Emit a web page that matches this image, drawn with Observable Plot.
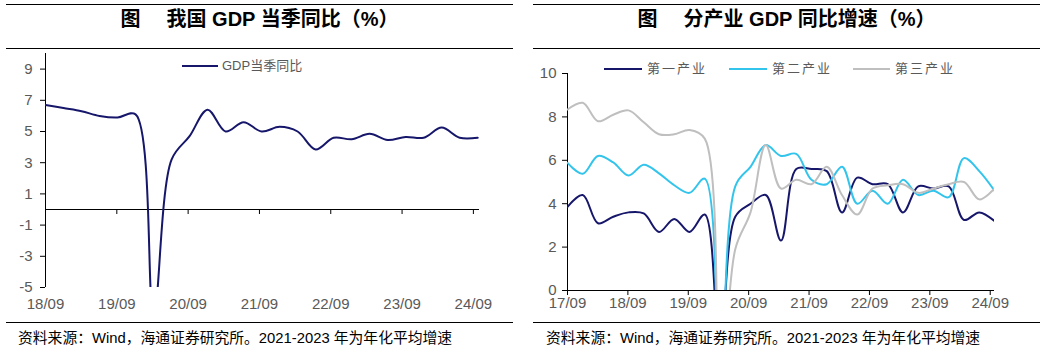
<!DOCTYPE html>
<html><head><meta charset="utf-8">
<script src="https://cdn.jsdelivr.net/npm/d3@7"></script>
<script src="https://cdn.jsdelivr.net/npm/@observablehq/plot@0.6"></script>
<style>
body{margin:0;width:1051px;height:354px;background:#fff;position:relative;overflow:hidden;font-family:"Liberation Sans",Arial,"Noto Sans CJK SC",sans-serif;}
.rule{position:absolute;height:0;border-top:1px solid #000;}
.title{position:absolute;top:8px;height:22px;line-height:22px;text-align:center;font-weight:bold;font-size:20px;color:#000;white-space:pre;}
.gap{display:inline-block;width:26px;}
.note{position:absolute;top:329px;font-size:14.8px;line-height:18px;color:#000;white-space:pre;}
.chart{position:absolute;top:50px;}
.legend{position:absolute;height:14px;font-size:13px;line-height:14px;color:#595959;display:flex;align-items:center;white-space:nowrap;}
.swatch{display:inline-block;height:0;border-top:2px solid;}
.lt{letter-spacing:2px;}
</style></head>
<body>
<div class="rule" style="left:6px;width:507px;top:4px"></div>
<div class="title" style="left:6px;width:507px">图<span class="gap"></span>我国 GDP 当季同比（%）</div>
<div class="rule" style="left:6px;width:507px;top:48px"></div>
<div class="rule" style="left:6px;width:507px;top:322px"></div>
<div class="note" style="left:18px">资料来源：Wind，海通证券研究所。2021-2023 年为年化平均增速</div>

<div class="rule" style="left:533px;width:507px;top:4px"></div>
<div class="title" style="left:533px;width:507px">图<span class="gap"></span>分产业 GDP 同比增速（%）</div>
<div class="rule" style="left:533px;width:507px;top:48px"></div>
<div class="rule" style="left:533px;width:507px;top:322px"></div>
<div class="note" style="left:546px">资料来源：Wind，海通证券研究所。2021-2023 年为年化平均增速</div>

<div id="left" class="chart" style="left:0px"></div>
<div id="right" class="chart" style="left:525px"></div>

<div class="legend" style="left:182px;top:59px"><span class="swatch" style="width:36px;border-color:#16166b;margin-right:4px"></span><span>GDP当季同比</span></div>
<div class="legend" style="left:604px;top:62px"><span class="swatch" style="width:38px;border-color:#16166b;margin-right:5px"></span><span class="lt">第一产业</span></div>
<div class="legend" style="left:729px;top:62px"><span class="swatch" style="width:38px;border-color:#33c4ec;margin-right:5px"></span><span class="lt">第二产业</span></div>
<div class="legend" style="left:853px;top:62px"><span class="swatch" style="width:37px;border-color:#bfbfbf;margin-right:5px"></span><span class="lt">第三产业</span></div>

<script>
// ---- Left chart data: GDP quarterly YoY (%) ----
const gdpQuarters = ["2018Q3","2018Q4","2019Q1","2019Q2","2019Q3","2019Q4","2020Q1","2020Q2","2020Q3","2020Q4",
  "2021Q1","2021Q2","2021Q3","2021Q4","2022Q1","2022Q2","2022Q3","2022Q4","2023Q1","2023Q2","2023Q3","2023Q4",
  "2024Q1","2024Q2","2024Q3"];
const gdpValues = [6.7,6.5,6.3,6.0,5.9,6.1,-6.8,3.2,4.7,6.4,5.0,5.6,5.0,5.3,5.0,3.85,4.6,4.5,4.85,4.45,4.65,4.6,5.25,4.6,4.6];
const gdpTickLabels = ["18/09","19/09","20/09","21/09","22/09","23/09","24/09"];
const gdpYTicks = [-5,-3,-1,1,3,5,7,9];

// ---- Right chart data: GDP YoY by industry (%) ----
const sectorQuarters = ["2017Q3","2017Q4","2018Q1","2018Q2","2018Q3","2018Q4","2019Q1","2019Q2","2019Q3","2019Q4",
  "2020Q1","2020Q2","2020Q3","2020Q4","2021Q1","2021Q2","2021Q3","2021Q4","2022Q1","2022Q2","2022Q3","2022Q4",
  "2023Q1","2023Q2","2023Q3","2023Q4","2024Q1","2024Q2","2024Q3"];
const primaryValues   = [3.85,4.4,3.1,3.4,3.6,3.55,2.7,3.3,2.7,3.5,-3.2,3.4,4.0,4.4,2.3,5.6,5.6,5.5,3.6,5.2,4.9,4.9,3.6,4.8,4.7,4.8,3.25,3.6,3.2];
const secondaryValues = [5.88,5.38,6.2,5.9,5.3,5.8,5.4,4.85,4.5,5.15,-9.6,4.8,5.7,6.7,6.2,6.3,5.1,4.9,5.7,4.0,4.6,4.0,5.1,4.4,4.6,4.3,6.1,5.5,4.6];
const tertiaryValues  = [8.34,8.65,7.8,8.1,8.3,7.75,7.2,7.2,7.4,7.0,-5.2,1.9,3.6,6.7,4.7,5.1,4.9,5.7,4.4,3.5,4.7,4.85,4.9,4.5,4.7,4.9,5.0,4.2,4.7];
const sectorNames = ["第一产业","第二产业","第三产业"];
const sectorTickLabels = ["17/09","18/09","19/09","20/09","21/09","22/09","23/09","24/09"];
const sectorYTicks = [0,2,4,6,8,10];

const quartersPerTick = 3.96;
const navy = "#16166b", cyan = "#33c4ec", grey = "#bfbfbf";
const baseStyle = {fontFamily: '"Liberation Sans", Arial, sans-serif', fontSize: "15px", color: "#595959", background: "transparent", overflow: "visible"};

// Left chart
const gdpData = gdpQuarters.map((q, i) => ({i, q, v: gdpValues[i]}));
const leftTicks = gdpTickLabels.map((_, k) => k * quartersPerTick);
const left = Plot.plot({
  width: 525, height: 265,
  marginLeft: 45, marginRight: 46, marginTop: 3, marginBottom: 28,
  style: baseStyle,
  x: {domain: [0, 24.1], axis: null},
  y: {domain: [-5, 10], axis: null},
  marks: [
    Plot.ruleY([0], {stroke: "#000"}),
    Plot.ruleX([0], {stroke: "#000"}),
    Plot.ruleX(leftTicks, {x: d => d, y1: 0, y2: 0, insetBottom: -5, stroke: "#000"}),
    Plot.axisY({ticks: gdpYTicks, anchor: "left", label: null, tickSize: 5, tickPadding: 8, stroke: "#000", fill: "#595959",
      tickFormat: d => String(d)}),
    Plot.axisX({ticks: leftTicks, anchor: "bottom", label: null, tickSize: 0, tickPadding: 11, fill: "#595959",
      tickFormat: d => gdpTickLabels[Math.round(d / quartersPerTick)]}),
    Plot.line(gdpData, {x: "i", y: "v", stroke: navy, strokeWidth: 2, curve: "catmull-rom", clip: true})
  ]
});
document.getElementById("left").appendChild(left);

// Right chart
const sectorData = [];
[primaryValues, secondaryValues, tertiaryValues].forEach((vals, s) => {
  vals.forEach((v, i) => sectorData.push({i, q: sectorQuarters[i], v, s: sectorNames[s]}));
});
const rightTicks = sectorTickLabels.map((_, k) => k * quartersPerTick);
const right = Plot.plot({
  width: 526, height: 265,
  marginLeft: 42, marginRight: 57, marginTop: 23, marginBottom: 25,
  style: baseStyle,
  x: {domain: [0, 28], axis: null},
  y: {domain: [0, 10], axis: null},
  color: {domain: sectorNames, range: [navy, cyan, grey]},
  marks: [
    Plot.ruleY([0], {stroke: "#000"}),
    Plot.ruleX([0], {stroke: "#000"}),
    Plot.axisY({ticks: sectorYTicks, anchor: "left", label: null, tickSize: 5, tickPadding: 6, stroke: "#000", fill: "#595959",
      tickFormat: d => String(d)}),
    Plot.axisX({ticks: rightTicks, anchor: "bottom", label: null, tickSize: 5, tickPadding: 2, stroke: "#000", fill: "#595959",
      tickFormat: d => sectorTickLabels[Math.round(d / quartersPerTick)]}),
    Plot.line(sectorData, {x: "i", y: "v", z: "s", stroke: "s", strokeWidth: 2, curve: "catmull-rom", clip: true})
  ]
});
document.getElementById("right").appendChild(right);
</script>
</body></html>
